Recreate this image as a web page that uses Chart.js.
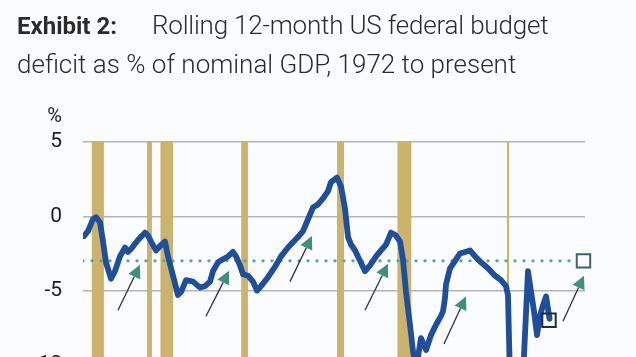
<!DOCTYPE html>
<html>
<head>
<meta charset="utf-8">
<script src="https://cdn.jsdelivr.net/npm/chart.js@4/dist/chart.umd.min.js"></script>
<style>
  html, body { margin: 0; padding: 0; width: 636px; height: 357px; overflow: hidden; background: #fbfcfe; }
  #wrap { position: relative; width: 636px; height: 357px; overflow: hidden; }
  #title { position: absolute; left: 17px; top: 6px; font-family: Roboto, sans-serif; font-size: 26px; font-weight: 300; line-height: 38px; color: #2b2b2b; white-space: nowrap; z-index: 2; }
  #title b { font-weight: 700; font-size: 24px; margin-right: 35px; }
  #title .l1 { letter-spacing: -0.2px; }
  canvas { position: absolute; left: 0; top: 0; }
</style>
</head>
<body>
<div id="wrap">
  <div id="title"><b>Exhibit 2:</b><span class="l1">Rolling 12-month US federal budget</span><br>deficit as % of nominal GDP, 1972 to present</div>
  <canvas id="c" width="636" height="547"></canvas>
</div>
<script>
// ---- data ----
const years = [1972.98,1973.43,1973.98,1974.32,1974.76,1975.10,1975.43,1975.99,1976.43,1976.99,1977.55,1977.88,1978.22,1979.0,1979.78,1980.11,1980.45,1981.0,1981.45,1982.0,1982.34,1982.90,1983.45,1983.79,1984.35,1985.13,1985.91,1986.46,1987.02,1987.35,1987.91,1988.47,1989.03,1989.58,1989.92,1990.36,1990.70,1991.25,1991.81,1992.26,1992.70,1993.48,1994.26,1994.93,1995.71,1996.82,1997.38,1997.94,1998.50,1999.05,1999.61,2000.17,2000.50,2001.17,2001.62,2002.06,2002.40,2002.73,2003.18,2003.73,2004.29,2004.85,2005.52,2006.07,2006.63,2007.19,2007.74,2008.19,2008.52,2008.86,2009.30,2009.64,2010.0,2010.53,2011.09,2011.64,2012.20,2012.76,2012.98,2013.20,2013.31,2013.76,2014.32,2014.87,2015.43,2015.99,2016.55,2017.21,2017.99,2018.77,2019.44,2020.0,2020.22,2020.6,2021.0,2021.6,2022.45,2022.79,2023.12,2023.45,2023.79,2024.12,2024.46,2024.85];
const deficit = [-1.33,-1.0,-0.2,-0.07,-0.4,-1.7,-3.1,-4.2,-3.7,-2.7,-2.1,-2.4,-2.2,-1.6,-1.1,-1.3,-1.7,-2.3,-2.0,-1.7,-2.7,-4.0,-5.3,-5.1,-4.3,-4.4,-4.8,-4.7,-4.4,-3.7,-3.1,-2.9,-2.7,-2.4,-2.7,-3.3,-3.9,-4.0,-4.4,-5.0,-4.7,-4.1,-3.4,-2.7,-2.1,-1.4,-1.0,-0.2,0.6,0.8,1.2,1.7,2.3,2.6,2.0,0.5,-1.4,-1.9,-2.3,-3.0,-3.7,-3.3,-2.7,-2.3,-1.9,-1.1,-1.3,-1.7,-2.9,-5.1,-7.3,-9.1,-10.2,-8.2,-9.0,-8.0,-7.3,-6.7,-6.4,-5.5,-4.6,-3.5,-3.0,-2.5,-2.4,-2.3,-2.7,-3.1,-3.5,-4.0,-4.3,-4.7,-5.3,-15,-18,-14.5,-3.7,-5.1,-6.4,-8.0,-6.7,-6.0,-5.4,-6.9];
const targetLevel = -3;
const targetYears = [1972.87, 2027.9];
const markerYears = [2024.79, 2028.63];
const markerValues = [-7.0, -3.0];
const recessionStart = [1973.85, 1980.0, 1981.5, 1990.5, 2001.17, 2007.9, 2020.1];
const recessionEnd   = [1975.2, 1980.55, 1982.9, 1991.25, 2001.95, 2009.45, 2020.33];
const arrowTailYear = [1976.77, 1986.57, 1995.93, 2004.29, 2013.09, 2026.35];
const arrowTailVal  = [-6.33, -6.73, -4.4, -6.33, -8.6, -7.07];
const arrowTipYear  = [1979.22, 1989.14, 1998.38, 2006.85, 2015.54, 2028.69];
const arrowTipVal   = [-3.27, -3.67, -1.33, -3.2, -5.4, -4.0];
const yTicks = [5, 0, -5, -10, -15, -20];

const recessionPlugin = {
  id: 'recessions',
  beforeDatasetsDraw(chart) {
    const {ctx, scales: {x, y}, chartArea} = chart;
    ctx.save();
    ctx.fillStyle = '#cbb36c';
    recessionStart.forEach((s, i) => {
      const x0 = x.getPixelForValue(s), x1 = x.getPixelForValue(recessionEnd[i]);
      const top = y.getPixelForValue(5);
      ctx.fillRect(x0, top, Math.max(2, x1 - x0), chartArea.bottom - top);
    });
    ctx.restore();
  },
  afterDatasetsDraw(chart) {
    const {ctx, scales: {x, y}} = chart;
    ctx.save();
    arrowTailYear.forEach((ty, i) => {
      const x0 = x.getPixelForValue(ty), y0 = y.getPixelForValue(arrowTailVal[i]);
      const x1 = x.getPixelForValue(arrowTipYear[i]), y1 = y.getPixelForValue(arrowTipVal[i]);
      const dx = x1 - x0, dy = y1 - y0, len = Math.hypot(dx, dy);
      const ux = dx / len, uy = dy / len;
      const hl = 13, hw = 6.5;
      const bx = x1 - ux * hl, by = y1 - uy * hl;
      ctx.strokeStyle = '#2e3236';
      ctx.lineWidth = 1.3;
      ctx.beginPath(); ctx.moveTo(x0, y0); ctx.lineTo(bx, by); ctx.stroke();
      ctx.fillStyle = '#3f8f7c';
      ctx.beginPath();
      ctx.moveTo(x1, y1);
      ctx.lineTo(bx - uy * hw, by + ux * hw);
      ctx.lineTo(bx + uy * hw, by - ux * hw);
      ctx.closePath(); ctx.fill();
    });
    ctx.fillStyle = '#1c1c1c';
    ctx.font = '20px Roboto, sans-serif';
    ctx.textAlign = 'right';
    ctx.textBaseline = 'middle';
    ctx.fillText('%', y.right - 21, y.getPixelForValue(5) - 25);
    ctx.restore();
  }
};

new Chart(document.getElementById('c'), {
  type: 'line',
  data: {
    datasets: [
      {
        data: years.map((yr, i) => ({x: yr, y: deficit[i]})),
        borderColor: '#1f4e9b',
        borderWidth: 5.8,
        pointRadius: 0,
        tension: 0,
        borderJoinStyle: 'round',
        borderCapStyle: 'round',
        order: 1
      },
      {
        data: targetYears.map(yr => ({x: yr, y: targetLevel})),
        borderColor: '#5aa597',
        borderWidth: 3.4,
        borderDash: [0, 9],
        borderCapStyle: 'round',
        pointRadius: 0,
        order: 3
      },
      {
        data: markerYears.map((yr, i) => ({x: yr, y: markerValues[i]})),
        showLine: false,
        clip: false,
        pointStyle: 'rect',
        pointRadius: 9.5,
        borderWidth: 2,
        pointBorderColor: ['#1e2f3c', '#3b6470'],
        pointBackgroundColor: 'rgba(0,0,0,0)',
        order: 0
      }
    ]
  },
  options: {
    responsive: false,
    animation: false,
    events: [],
    layout: { padding: { left: 0, right: 51, top: 142, bottom: 27 } },
    plugins: { legend: { display: false }, tooltip: { enabled: false }, title: { display: false } },
    scales: {
      x: { type: 'linear', min: 1972.87, max: 2028.8, display: false },
      y: {
        min: -20, max: 5,
        afterBuildTicks: (s) => { s.ticks = yTicks.map(v => ({value: v})); },
        afterFit: (s) => { s.width = 83; },
        border: { display: false },
        grid: { color: '#b4b4b4', lineWidth: 1.4, drawTicks: false },
        ticks: { color: '#1c1c1c', font: { family: 'Roboto', size: 21 }, padding: 21 }
      }
    }
  },
  plugins: [recessionPlugin]
});
</script>
</body>
</html>
